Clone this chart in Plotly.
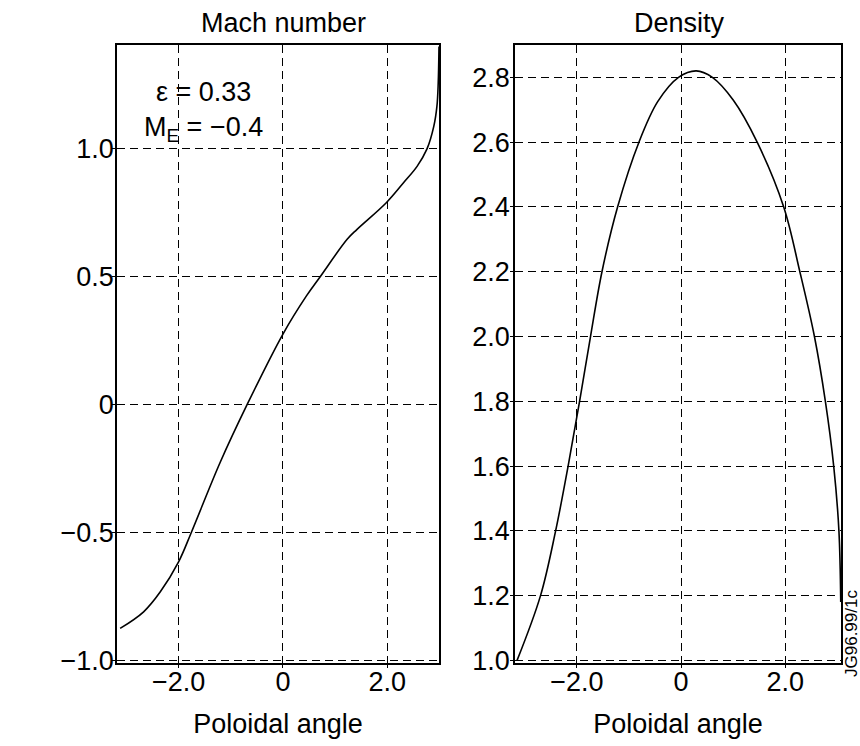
import plotly.graph_objects as go

# Poloidal profiles of Mach number and density (epsilon = 0.33, M_E = -0.4)
mach_theta = [-3.12, -2.67, -2.35, -2.0, -1.76, -1.20, -0.69, 0.0,
              0.45, 0.71, 1.23, 1.42, 1.98, 2.31, 2.57, 2.76, 2.89, 2.95, 2.975, 2.99]
mach_value = [-0.873, -0.808, -0.73, -0.613, -0.5, -0.223, 0.0, 0.277,
              0.426, 0.5, 0.647, 0.686, 0.79, 0.868, 0.932, 1.0, 1.088, 1.166, 1.257, 1.40]

dens_theta = [-3.15, -2.70, -2.41, -2.17, -1.95, -1.74, -1.52, -1.22, -0.81, -0.45,
              -0.05, 0.29, 0.60, 1.00, 1.46, 1.97, 2.28, 2.56, 2.77, 2.93, 3.03, 3.065]
dens_value = [1.0, 1.2, 1.4, 1.6, 1.8, 2.0, 2.2, 2.4, 2.6, 2.725,
              2.8, 2.82, 2.8, 2.73, 2.6, 2.4, 2.2, 2.0, 1.8, 1.6, 1.4, 1.18]

x_ticks = [-2.0, 0.0, 2.0]
x_tick_text = ["\u22122.0", "0", "2.0"]
mach_ticks = [-1.0, -0.5, 0.0, 0.5, 1.0]
mach_tick_text = ["\u22121.0", "\u22120.5", "0", "0.5", "1.0"]
dens_ticks = [1.0, 1.2, 1.4, 1.6, 1.8, 2.0, 2.2, 2.4, 2.6, 2.8]
dens_tick_text = ["1.0", "1.2", "1.4", "1.6", "1.8", "2.0", "2.2", "2.4", "2.6", "2.8"]

FONT = "Liberation Sans, Arial, Helvetica, sans-serif"
W, H = 860, 746
M_T, M_B = 45, 83
PLOT_H = H - M_T - M_B

fig = go.Figure()
fig.add_trace(go.Scatter(x=mach_theta, y=mach_value, mode="lines",
                         line=dict(color="black", width=1.6, shape="spline", smoothing=1.0),
                         xaxis="x", yaxis="y", showlegend=False, hoverinfo="skip"))
fig.add_trace(go.Scatter(x=dens_theta, y=dens_value, mode="lines",
                         line=dict(color="black", width=1.6, shape="spline", smoothing=1.0),
                         xaxis="x2", yaxis="y2", showlegend=False, hoverinfo="skip"))

axis_common = dict(
    showline=True, linecolor="black", linewidth=1.5, mirror=True,
    showgrid=True, gridcolor="black", gridwidth=1.2, griddash="8px,5px",
    zeroline=False, ticks="outside", ticklen=3, tickcolor="black",
    tickfont=dict(family=FONT, size=27, color="black"),
)

title_font = dict(family=FONT, size=27, color="black")

fig.update_layout(
    width=W, height=H,
    margin=dict(l=0, r=0, t=M_T, b=M_B),
    paper_bgcolor="white", plot_bgcolor="white",
    xaxis=dict(domain=[117 / W, 439 / W], range=[-3.18, 2.99], anchor="y",
               tickvals=x_ticks, ticktext=x_tick_text, ticklabelstandoff=-9,
               title=dict(text="Poloidal angle", standoff=18, font=title_font),
               **axis_common),
    yaxis=dict(domain=[0, 1], range=[-1.008, 1.406], anchor="x",
               tickvals=mach_ticks, ticktext=mach_tick_text, ticklabelstandoff=-7,
               **axis_common),
    xaxis2=dict(domain=[515 / W, 841 / W], range=[-3.19, 3.07], anchor="y2",
                tickvals=x_ticks, ticktext=x_tick_text, ticklabelstandoff=-9,
                title=dict(text="Poloidal angle", standoff=18, font=title_font),
                **axis_common),
    yaxis2=dict(domain=[0, 1], range=[0.992, 2.9], anchor="x2",
                tickvals=dens_ticks, ticktext=dens_tick_text, ticklabelstandoff=-5,
                **axis_common),
)

def py(y_px):
    # pixel row -> paper fraction
    return (H - M_B - y_px) / PLOT_H

annotations = [
    dict(text="Mach number", x=283 / W, y=py(23), xref="paper", yref="paper",
         showarrow=False, xanchor="center", yanchor="middle", font=title_font),
    dict(text="Density", x=679 / W, y=py(23), xref="paper", yref="paper",
         showarrow=False, xanchor="center", yanchor="middle", font=title_font),
    dict(text="\u03b5 = 0.33", x=203 / W, y=py(92), xref="paper", yref="paper",
         showarrow=False, xanchor="center", yanchor="middle", font=title_font),
    dict(text="M<sub>E</sub> = \u22120.4", x=203 / W, y=py(129), xref="paper", yref="paper",
         showarrow=False, xanchor="center", yanchor="middle", font=title_font),
    dict(text="JG96.99/1c", x=851 / W, y=py(634), xref="paper", yref="paper",
         showarrow=False, xanchor="center", yanchor="middle", textangle=-90,
         font=dict(family=FONT, size=17, color="black")),
]
fig.update_layout(annotations=annotations)

fig.write_html("out.html")
